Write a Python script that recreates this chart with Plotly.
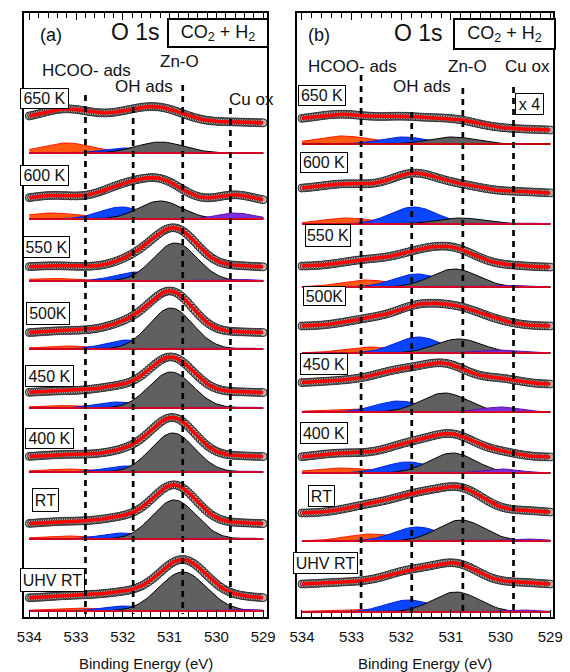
import numpy as np
import plotly.graph_objects as go

W, H = 570, 672
FONT = "Arial, Liberation Sans, sans-serif"

labels = ["650 K", "600 K", "550 K", "500K", "450 K", "400 K", "RT", "UHV RT"]
energy = np.round(np.arange(534.0, 528.999, -0.05), 3)

# ---------------- panel (a) ----------------
a_bg_left = [497, 414.5, 348.6, 283.2, 223.4, 159.4, 92.4, 18.5]
a_bg_right = [494, 415.3, 349.5, 284.0, 224.0, 160.0, 93.0, 18.3]
a_comp_base = [464, 398, 336, 268, 209, 145, 78, 6]
a_env_scale = [1.15, 1.15, 1.0, 1.0, 1.0, 1.0, 1.0, 1.0]
a_hcoo_c = [533.2, 533.5, 533.5, 533.2, 533.3, 533.2, 533.2, 533.0]
a_hcoo_h = [10, 6, 2.5, 3, 2.5, 3, 3, 3]
a_hcoo_w = [1.3, 1.4, 1.4, 1.4, 1.4, 1.4, 1.4, 1.4]
a_oh_c = [531.9, 532.03, 531.7, 531.9, 532.1, 531.9, 532.0, 531.95]
a_oh_h = [5, 12, 9, 9, 6, 6, 6, 5]
a_oh_w = [1.1, 1.1, 1.1, 1.1, 1.1, 1.1, 1.1, 1.1]
a_zno_c = [531.2, 531.2, 530.88, 530.97, 530.97, 530.93, 530.9, 530.72]
a_zno_h = [11, 18, 38, 41, 36, 39, 39, 39]
a_zno_w = [1.2, 1.1, 1.1, 1.1, 1.1, 1.1, 1.1, 1.2]
a_cuox_c = [529.6, 529.6, 529.5, 529.5, 529.5, 529.5, 529.5, 529.4]
a_cuox_h = [0.5, 6, 1.5, 1, 1, 1, 1, 1.5]
a_cuox_w = [0.9, 0.9, 0.9, 0.9, 0.9, 0.9, 0.9, 0.9]

# ---------------- panel (b) ----------------
b_bg_left = [496, 427.7, 350.7, 290.8, 233.7, 158.0, 103.8, 32.4]
b_bg_right = [487, 423.8, 349.8, 290.9, 232.8, 159.9, 104.0, 32.4]
b_comp_base = [473, 393, 330, 264, 205, 144, 76, 5]
b_env_scale = [1.0, 1.0, 0.9, 1.1, 1.0, 1.1, 1.1, 1.0]
b_hcoo_c = [533.18, 533.1, 532.7, 532.65, 533.0, 533.2, 532.6, 533.0]
b_hcoo_h = [8, 6, 7, 6, 3, 5, 7, 2.5]
b_hcoo_w = [1.3, 1.2, 1.2, 1.2, 1.4, 1.4, 1.2, 1.4]
b_oh_c = [531.95, 531.75, 531.68, 531.66, 532.05, 531.87, 531.68, 531.85]
b_oh_h = [7, 17, 13, 16, 11, 11, 14, 12]
b_oh_w = [1.1, 1.1, 1.1, 1.1, 1.1, 1.1, 1.1, 1.1]
b_zno_c = [530.97, 530.8, 530.93, 530.84, 531.13, 530.97, 530.8, 530.9]
b_zno_h = [7, 6, 18, 14, 19, 20, 21, 20]
b_zno_w = [1.1, 1.1, 1.1, 1.1, 1.1, 1.1, 1.1, 1.1]
b_cuox_c = [529.7, 529.6, 529.8, 530.1, 530.0, 530.0, 529.5, 529.6]
b_cuox_h = [0, 1, 1.5, 3, 5, 4, 2, 2]
b_cuox_w = [0.9, 0.9, 0.9, 1.0, 0.9, 0.9, 0.9, 0.9]

# reference binding energies (dashed lines)
ref_names = ["HCOO- ads", "OH ads", "Zn-O", "Cu ox"]
a_ref_be = [532.8, 531.78, 530.72, 529.7]
b_ref_be = [532.81, 531.79, 530.76, 529.74]

COMP_STYLE = {
    "hcoo": ("#ff5a10", "#ff1a00"),
    "oh": ("#0a46ff", "#0022dd"),
    "zno": ("#606060", "#000000"),
    "cuox": ("#7b2fd8", "#5a10b0"),
}


def peak(e, c, h, w):
    return h * np.exp(-4 * np.log(2) * (e - c) ** 2 / w ** 2)


fig = go.Figure()


def add_panel(xa, ya, P):
    for i in range(len(labels)):
        base = P["comp_base"][i]
        comps = {}
        for key in ["hcoo", "oh", "zno", "cuox"]:
            comps[key] = peak(energy, P[key + "_c"][i], P[key + "_h"][i], P[key + "_w"][i])
        for key in ["hcoo", "oh", "zno", "cuox"]:
            if P[key + "_h"][i] <= 0:
                continue
            fillc, linec = COMP_STYLE[key]
            xs = list(energy) + [energy[-1], energy[0]]
            ys = list(base + comps[key]) + [base, base]
            fig.add_trace(go.Scatter(x=xs, y=ys, xaxis=xa, yaxis=ya, mode="lines",
                                     fill="toself", fillcolor=fillc,
                                     line=dict(color=linec, width=1),
                                     hoverinfo="skip", showlegend=False))
        fig.add_trace(go.Scatter(x=[energy[0], energy[-1]], y=[base, base], xaxis=xa, yaxis=ya,
                                 mode="lines", line=dict(color="#ff0000", width=1.5),
                                 hoverinfo="skip", showlegend=False))
        bl, br = P["bg_left"][i], P["bg_right"][i]
        bg = bl + (br - bl) * (534.0 - energy) / 5.0
        total = sum(comps.values())
        env = bg + P["env_scale"][i] * total
        fig.add_trace(go.Scatter(x=energy, y=env, xaxis=xa, yaxis=ya, mode="markers",
                                 marker=dict(size=8, color="#b0b0b0",
                                             line=dict(color="#2a2a2a", width=1)),
                                 hoverinfo="skip", showlegend=False))
        fig.add_trace(go.Scatter(x=energy, y=env, xaxis=xa, yaxis=ya, mode="lines",
                                 line=dict(color="#ff0000", width=3.5),
                                 hoverinfo="skip", showlegend=False))


PA = dict(bg_left=a_bg_left, bg_right=a_bg_right, comp_base=a_comp_base, env_scale=a_env_scale,
          hcoo_c=a_hcoo_c, hcoo_h=a_hcoo_h, hcoo_w=a_hcoo_w,
          oh_c=a_oh_c, oh_h=a_oh_h, oh_w=a_oh_w,
          zno_c=a_zno_c, zno_h=a_zno_h, zno_w=a_zno_w,
          cuox_c=a_cuox_c, cuox_h=a_cuox_h, cuox_w=a_cuox_w)
PB = dict(bg_left=b_bg_left, bg_right=b_bg_right, comp_base=b_comp_base, env_scale=b_env_scale,
          hcoo_c=b_hcoo_c, hcoo_h=b_hcoo_h, hcoo_w=b_hcoo_w,
          oh_c=b_oh_c, oh_h=b_oh_h, oh_w=b_oh_w,
          zno_c=b_zno_c, zno_h=b_zno_h, zno_w=b_zno_w,
          cuox_c=b_cuox_c, cuox_h=b_cuox_h, cuox_w=b_cuox_w)

add_panel("x", "y", PA)
add_panel("x2", "y2", PB)

a_line_top = [522, 510, 532, 509]
b_line_top = [542, 505, 529, 530]
for be, top in zip(a_ref_be, a_line_top):
    fig.add_trace(go.Scatter(x=[be, be], y=[top, 3], xaxis="x", yaxis="y", mode="lines",
                             line=dict(color="black", width=2.7, dash="6px,5px"),
                             hoverinfo="skip", showlegend=False))
for be, top in zip(b_ref_be, b_line_top):
    fig.add_trace(go.Scatter(x=[be, be], y=[top, 3], xaxis="x2", yaxis="y2", mode="lines",
                             line=dict(color="black", width=2.7, dash="6px,5px"),
                             hoverinfo="skip", showlegend=False))

ydom = [55 / H, 659 / H]
xcommon = dict(tickvals=[534, 533, 532, 531, 530, 529], ticks="inside", ticklen=7, tickwidth=1,
               tickcolor="black", showline=True, linecolor="black", linewidth=1.5, mirror="ticks",
               showgrid=False, zeroline=False, tickfont=dict(family=FONT, size=15, color="#111"),
               ticklabelstandoff=5,
               minor=dict(dtick=0.2, ticks="inside", ticklen=5, tickcolor="black", tickwidth=1,
                          showgrid=False))
ycommon = dict(range=[0, 604], showticklabels=False, ticks="", showline=True, linecolor="black",
               linewidth=1.5, mirror=True, showgrid=False, zeroline=False)

fig.update_layout(
    width=W, height=H, margin=dict(l=0, r=0, t=0, b=0),
    paper_bgcolor="white", plot_bgcolor="white", showlegend=False,
    xaxis=dict(domain=[17 / W, 267 / W], range=[534.104, 528.917], anchor="y", **xcommon),
    xaxis2=dict(domain=[298 / W, 562 / W], range=[534.098, 528.94], anchor="y2", **xcommon),
    yaxis=dict(domain=ydom, anchor="x", **ycommon),
    yaxis2=dict(domain=ydom, anchor="x2", **ycommon),
)


def px(x, y):
    return x / W, 1 - y / H


annotations = []


def text(x, y, s, size):
    ax, ay = px(x, y)
    annotations.append(dict(x=ax, y=ay, xref="paper", yref="paper", text=s, showarrow=False,
                            xanchor="center", yanchor="middle",
                            font=dict(family=FONT, size=size, color="#111")))


def boxed(x0, x1, y0, y1, s, size, bw=1):
    ax, ay = px((x0 + x1) / 2, (y0 + y1) / 2)
    annotations.append(dict(x=ax, y=ay, xref="paper", yref="paper", text=s, showarrow=False,
                            xanchor="center", yanchor="middle", bgcolor="white",
                            bordercolor="black", borderwidth=bw, borderpad=0,
                            width=x1 - x0 - 2 * bw, height=y1 - y0 - 2 * bw, align="center",
                            valign="middle",
                            font=dict(family=FONT, size=size, color="#111")))


text(44, 35, "(a)", 18)
text(131, 32, "O 1s", 23)
boxed(165, 267, 18, 48, "CO<sub>2</sub> + H<sub>2</sub>", 18, 2)
text(81, 71, "HCOO- ads", 17)
text(177, 61, "Zn-O", 17)
text(140, 87, "OH ads", 17)
text(251, 99, "Cu ox", 17)

text(321, 35, "(b)", 18)
text(423, 33, "O 1s", 23)
boxed(460, 563, 18, 50, "CO<sub>2</sub> + H<sub>2</sub>", 18, 2)
text(355, 67, "HCOO- ads", 17)
text(474, 67, "Zn-O", 17)
text(535, 67, "Cu ox", 17)
text(427, 86, "OH ads", 17)
boxed(523, 552, 93, 115, "x 4", 16)

a_boxes = [(13, 62, 88, 109), (13, 62, 165, 186), (16, 63, 236, 258), (19, 63, 302, 325),
           (18, 67, 365, 387), (18, 67, 428, 449), (25, 52, 488, 512), (13, 78, 568, 592)]
b_boxes = [(300, 348, 85, 106), (302, 350, 152, 173), (307, 353, 224, 247), (305, 348, 286, 306),
           (302, 350, 353, 375), (302, 350, 422, 444), (310, 337, 485, 507), (295, 360, 552, 574)]
for lab, bx in zip(labels, a_boxes):
    boxed(*bx, lab, 16)
for lab, bx in zip(labels, b_boxes):
    boxed(*bx, lab, 16)

text(142, 663, "Binding Energy (eV)", 15)
text(430, 663, "Binding Energy (eV)", 15)

fig.update_layout(annotations=annotations)
fig.write_html("out.html", config={"displayModeBar": False},
               post_script="document.body.style.margin='0px';document.body.style.overflow='hidden';")
